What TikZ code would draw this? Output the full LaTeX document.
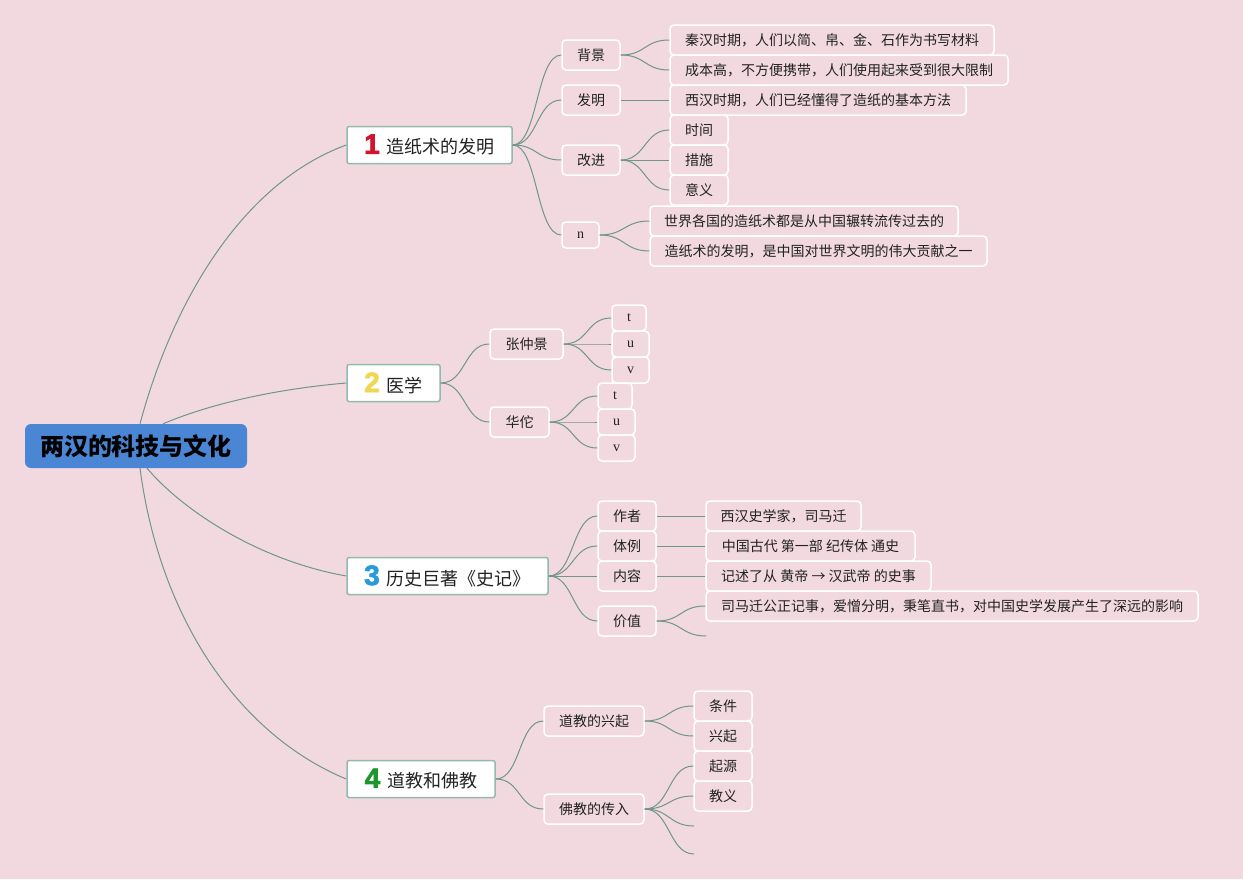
\documentclass[tikz,border=0pt]{standalone}
\usepackage{fontspec}
\setmainfont{Noto Sans CJK SC}
\newfontfamily\latinserif{Liberation Serif}
\newfontfamily\numfont{Liberation Sans}[BoldFeatures={FakeBold=2.5}]
\definecolor{bg}{RGB}{242,217,224}
\definecolor{rootblue}{RGB}{74,134,212}
\definecolor{bborder}{RGB}{150,185,175}
\definecolor{linec}{RGB}{110,150,140}
\definecolor{txt}{RGB}{34,34,34}
\definecolor{n1}{RGB}{210,20,45}
\definecolor{n2}{RGB}{243,214,80}
\definecolor{n3}{RGB}{40,155,217}
\definecolor{n4}{RGB}{30,150,45}
\tikzset{
  rootbox/.style={rectangle, rounded corners=6pt, fill=rootblue, text=black,
    font=\fontsize{24}{28}\selectfont\bfseries, minimum width=222pt, minimum height=44pt, inner sep=0pt},
  branchbox/.style={rectangle, rounded corners=2pt, fill=white, draw=bborder, line width=1.5pt,
    text=txt, font=\fontsize{18}{22}\selectfont, minimum height=37pt, inner sep=0pt},
  subbox/.style={rectangle, rounded corners=4pt, draw=white, line width=1.5pt, fill=bg,
    text=txt, font=\fontsize{14}{17}\selectfont, minimum height=30pt, inner sep=0pt},
  tinybox/.style={subbox, minimum height=26pt, font=\latinserif\fontsize{14}{17}\selectfont},
  conn/.style={draw=linec, line width=1pt}
}
\newcommand\bignum[2]{\textcolor{#1}{\numfont\bfseries\fontsize{28}{28}\selectfont #2}\hspace{7pt}}
\newcommand\link[2]{\draw[conn] (#1.east) .. controls +(25,0) and +(-25,0) .. (#2.west);}
\newcommand\linkc[2]{\draw[conn] (#1.east) .. controls +(25,0) and +(-25,0) .. (#2);}
\begin{document}
\begin{tikzpicture}[x=1pt,y=-1pt]
\useasboundingbox[fill=bg] (0,0) rectangle (1243,879);

% root
\node[rootbox] (root) at (136,446) {两汉的科技与文化};

% branches
\node[branchbox, minimum width=165pt] (b1) at (429.5,145) {\bignum{n1}{1}造纸术的发明};
\node[branchbox, minimum width=93pt] (b2) at (393.5,383) {\bignum{n2}{2}医学};
\node[branchbox, minimum width=201pt] (b3) at (447.5,576) {\bignum{n3}{3}历史巨著《史记》};
\node[branchbox, minimum width=148pt] (b4) at (421,779) {\bignum{n4}{4}道教和佛教};

% branch 1
\node[subbox, minimum width=58pt] (s11) at (591,55) {背景};
\node[subbox, minimum width=58pt] (s12) at (591,100) {发明};
\node[subbox, minimum width=58pt] (s13) at (591,160) {改进};
\node[tinybox, minimum width=37pt] (s14) at (580.5,235) {n};
\node[subbox, minimum width=324pt] (l111) at (832,40) {秦汉时期，人们以简、帛、金、石作为书写材料};
\node[subbox, minimum width=338pt] (l112) at (839,70) {成本高，不方便携带，人们使用起来受到很大限制};
\node[subbox, minimum width=296pt] (l121) at (818,100) {西汉时期，人们已经懂得了造纸的基本方法};
\node[subbox, minimum width=58pt] (l131) at (699,130) {时间};
\node[subbox, minimum width=58pt] (l132) at (699,160) {措施};
\node[subbox, minimum width=58pt] (l133) at (699,190) {意义};
\node[subbox, minimum width=308pt] (l141) at (804,221) {世界各国的造纸术都是从中国辗转流传过去的};
\node[subbox, minimum width=337pt] (l142) at (818.5,251) {造纸术的发明，是中国对世界文明的伟大贡献之一};

% branch 2
\node[subbox, minimum width=73pt] (s21) at (526.5,344) {张仲景};
\node[subbox, minimum width=59pt] (s22) at (519.5,422) {华佗};
\node[tinybox, minimum width=34pt] (l211) at (629,318) {t};
\node[tinybox, minimum width=37pt] (l212) at (630.5,344) {u};
\node[tinybox, minimum width=37pt] (l213) at (630.5,370) {v};
\node[tinybox, minimum width=34pt] (l221) at (615,396) {t};
\node[tinybox, minimum width=37pt] (l222) at (616.5,422) {u};
\node[tinybox, minimum width=37pt] (l223) at (616.5,448) {v};

% branch 3
\node[subbox, minimum width=58pt] (s31) at (627,516) {作者};
\node[subbox, minimum width=58pt] (s32) at (627,546) {体例};
\node[subbox, minimum width=58pt] (s33) at (627,576) {内容};
\node[subbox, minimum width=58pt] (s34) at (627,621) {价值};
\node[subbox, minimum width=155pt] (l311) at (783.5,516) {西汉史学家，司马迁};
\node[subbox, minimum width=209pt] (l321) at (810.5,546) {中国古代 第一部 纪传体 通史};
\node[subbox, minimum width=225pt] (l331) at (818.5,576) {记述了从 黄帝 → 汉武帝 的史事};
\node[subbox, minimum width=492pt] (l341) at (952,606) {司马迁公正记事，爱憎分明，秉笔直书，对中国史学发展产生了深远的影响};
\coordinate (e342) at (706,636);

% branch 4
\node[subbox, minimum width=100pt] (s41) at (594,721) {道教的兴起};
\node[subbox, minimum width=100pt] (s42) at (594,809) {佛教的传入};
\node[subbox, minimum width=58pt] (l411) at (723,706) {条件};
\node[subbox, minimum width=58pt] (l412) at (723,736) {兴起};
\node[subbox, minimum width=58pt] (l421) at (723,766) {起源};
\node[subbox, minimum width=58pt] (l422) at (723,796) {教义};
\coordinate (e423) at (694,826);
\coordinate (e424) at (694,854);

% root connectors
\draw[conn] ([xshift=4pt]root.north) .. controls (173.7,298.4) and (243.6,182.6) .. (b1.west);
\draw[conn] ([xshift=27pt]root.north) .. controls (218,400.6) and (287,388) .. (b2.west);
\draw[conn] ([xshift=11pt]root.south) .. controls (182.4,510.1) and (258.4,560.4) .. (b3.west);
\draw[conn] ([xshift=4pt]root.south) .. controls (160,620) and (240,735) .. (b4.west);

% level connectors
\link{b1}{s11}\link{b1}{s12}\link{b1}{s13}\link{b1}{s14}
\link{s11}{l111}\link{s11}{l112}
\link{s12}{l121}
\link{s13}{l131}\link{s13}{l132}\link{s13}{l133}
\link{s14}{l141}\link{s14}{l142}
\link{b2}{s21}\link{b2}{s22}
\link{s21}{l211}\link{s21}{l212}\link{s21}{l213}
\link{s22}{l221}\link{s22}{l222}\link{s22}{l223}
\link{b3}{s31}\link{b3}{s32}\link{b3}{s33}\link{b3}{s34}
\link{s31}{l311}\link{s32}{l321}\link{s33}{l331}\link{s34}{l341}
\linkc{s34}{e342}
\link{b4}{s41}\link{b4}{s42}
\link{s41}{l411}\link{s41}{l412}
\link{s42}{l421}\link{s42}{l422}
\linkc{s42}{e423}\linkc{s42}{e424}
\end{tikzpicture}
\end{document}
